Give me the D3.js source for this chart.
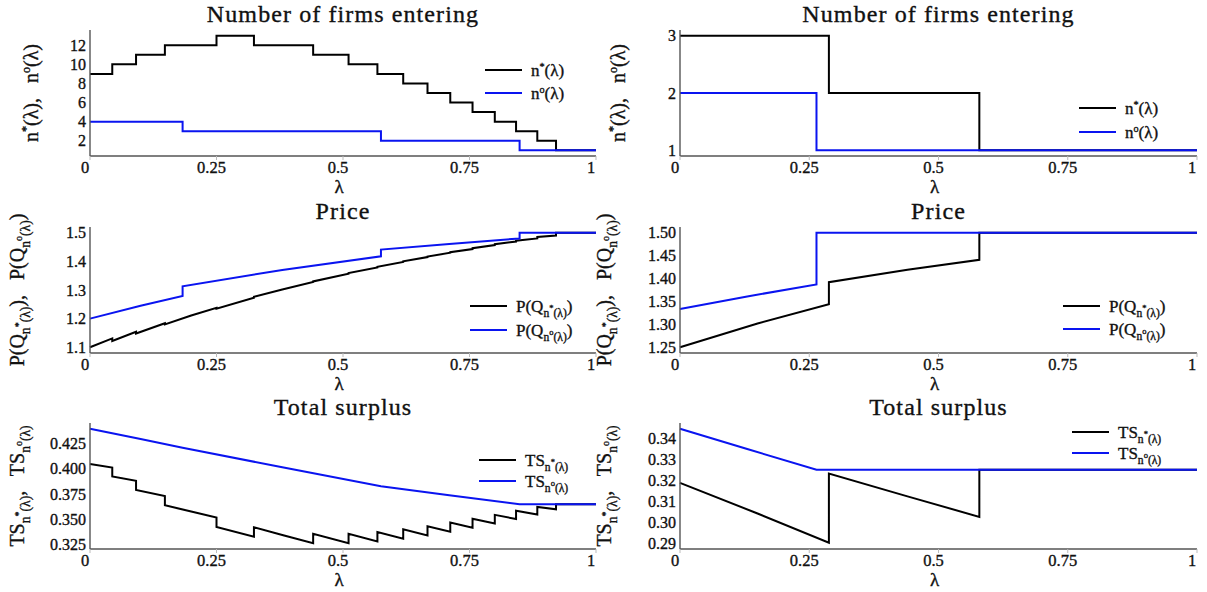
<!DOCTYPE html>
<html>
<head>
<meta charset="utf-8">
<script src="https://cdn.jsdelivr.net/npm/d3@7"></script>
<style>
body { margin: 0; background: #fff; }
text { font-family: "Liberation Serif", "Times New Roman", serif; fill: #111; stroke: #111; stroke-width: 0.35px; }
</style>
</head>
<body>
<svg id="fig" width="1207" height="592"></svg>
<script>
// ---- values ----
const xTicks = [0, 0.25, 0.5, 0.75, 1];
const xTickLabels = ['0', '0.25', '0.5', '0.75', '1'];

// left column: number of firms (step functions, value holds from break onward)
const nStarBreaksL = [0, 0.044, 0.091, 0.148, 0.250, 0.324, 0.441, 0.511, 0.568, 0.619, 0.667, 0.712, 0.756, 0.800, 0.842, 0.884, 0.921];
const nStarL = [9, 10, 11, 12, 13, 12, 11, 10, 9, 8, 7, 6, 5, 4, 3, 2, 1];
const nOptBreaksL = [0, 0.183, 0.575, 0.849];
const nOptL = [4, 3, 2, 1];

// left column: price
const pStarLamL = [0, 0.044, 0.044, 0.091, 0.091, 0.148, 0.148, 0.2, 0.25, 0.25, 0.324, 0.324, 0.38, 0.441, 0.441, 0.511, 0.511, 0.568, 0.568, 0.619, 0.619, 0.667, 0.667, 0.712, 0.712, 0.756, 0.756, 0.800, 0.800, 0.842, 0.842, 0.884, 0.884, 0.921, 0.921, 1];
const pStarL = [1.100, 1.131, 1.122, 1.154, 1.148, 1.184, 1.180, 1.211, 1.238, 1.235, 1.273, 1.276, 1.302, 1.328, 1.330, 1.357, 1.359, 1.379, 1.381, 1.398, 1.400, 1.415, 1.417, 1.430, 1.432, 1.443, 1.446, 1.457, 1.460, 1.469, 1.472, 1.480, 1.485, 1.490, 1.500, 1.500];
const pOptLamL = [0, 0.1, 0.183, 0.183, 0.38, 0.575, 0.575, 0.71, 0.849, 0.849, 1];
const pOptL = [1.200, 1.245, 1.279, 1.313, 1.370, 1.4175, 1.441, 1.461, 1.480, 1.500, 1.500];

// left column: total surplus
const tsStarLamL = pStarLamL;
const tsStarL = [0.4050, 0.4015, 0.3925, 0.3882, 0.3791, 0.3731, 0.3639, 0.3578, 0.3517, 0.3423, 0.3326, 0.3421, 0.3345, 0.3263, 0.3356, 0.3262, 0.3356, 0.3281, 0.3373, 0.3308, 0.3400, 0.3340, 0.3431, 0.3377, 0.3468, 0.3417, 0.3506, 0.3458, 0.3544, 0.3503, 0.3585, 0.3548, 0.3623, 0.3600, 0.3650, 0.3650];
const tsOptLamL = [0, 0.1, 0.183, 0.38, 0.575, 0.71, 0.849, 1];
const tsOptL = [0.4400, 0.4299, 0.4211, 0.4017, 0.3828, 0.3738, 0.3650, 0.3650];

// right column
const nStarBreaksR = [0, 0.288, 0.579];
const nStarR = [3, 2, 1];
const nOptBreaksR = [0, 0.264];
const nOptR = [2, 1];

const pStarLamR = [0, 0.15, 0.288, 0.288, 0.44, 0.579, 0.579, 1];
const pStarR = [1.250, 1.302, 1.344, 1.392, 1.419, 1.441, 1.500, 1.500];
const pOptLamR = [0, 0.13, 0.264, 0.264, 1];
const pOptR = [1.3333, 1.361, 1.387, 1.500, 1.500];

const tsStarLamR = pStarLamR;
const tsStarR = [0.3188, 0.3043, 0.2905, 0.3232, 0.3124, 0.3027, 0.3250, 0.3250];
const tsOptLamR = [0, 0.13, 0.264, 1];
const tsOptR = [0.3444, 0.3348, 0.3250, 0.3250];

// tick values on the y axes
const yTicksNL = [2, 4, 6, 8, 10, 12];
const yTicksNR = [1, 2, 3];
const yTicksPL = [1.1, 1.2, 1.3, 1.4, 1.5];
const yTicksPR = [1.25, 1.30, 1.35, 1.40, 1.45, 1.50];
const yTicksTSL = [0.325, 0.350, 0.375, 0.400, 0.425];
const yTicksTSR = [0.29, 0.30, 0.31, 0.32, 0.33, 0.34];

// ---- layout ----
const cols = [{ x0: 90, x1: 596, ylab: 38 }, { x0: 680, x1: 1197, ylab: 625 }];
const rowTop = [30, 227, 423];
const plotH = 126;
const BLUE = '#0a14f0';

const svg = d3.select('#fig');

// writes text made of pieces on different levels (base, sup, sub, sub-sup)
function rich(sel, parts, fs) {
    let cur = 0;
    const off = { b: 0, sup: -0.38 * fs, sub: 0.28 * fs, ss: -0.08 * fs };
    const size = { b: fs, sup: 0.6 * fs, sub: 0.68 * fs, ss: 0.5 * fs };
    parts.forEach(([t, lvl]) => {
        sel.append('tspan')
            .attr('dy', off[lvl] - cur)
            .attr('font-size', size[lvl])
            .text(t);
        cur = off[lvl];
    });
}

const labN = (s) => [['n', 'b'], [s, 'sup'], ['(λ)', 'b']];
const labP = (s) => [['P(Q', 'b'], ['n', 'sub'], [s, 'ss'], ['(λ)', 'sub'], [')', 'b']];
const labTS = (s) => [['TS', 'b'], ['n', 'sub'], [s, 'ss'], ['(λ)', 'sub']];

function lineData(lam, vals) {
    return lam.map((l, i) => ({ l: l, v: vals[i] }));
}
function stepData(breaks, vals) {
    let d = breaks.map((b, i) => ({ l: b, v: vals[i] }));
    d.push({ l: 1, v: vals[vals.length - 1] });
    return d;
}

function panel(cfg) {
    const c = cols[cfg.col];
    const top = rowTop[cfg.row];
    const bottom = top + plotH;
    const g = svg.append('g');

    const x = d3.scaleLinear().domain([0, 1]).range([c.x0, c.x1]);
    const y = d3.scaleLinear().domain(cfg.domain).range([bottom, top]);

    // title
    g.append('text')
        .attr('x', (c.x0 + c.x1) / 2)
        .attr('y', top - 8)
        .attr('text-anchor', 'middle')
        .attr('font-size', 24)
        .attr('letter-spacing', 1.1)
        .text(cfg.title);

    // series
    const line = d3.line().x(d => x(d.l)).y(d => y(d.v));
    if (cfg.step) line.curve(d3.curveStepAfter);
    g.append('path').datum(cfg.black)
        .attr('d', line).attr('fill', 'none')
        .attr('stroke', '#000').attr('stroke-width', 2);
    g.append('path').datum(cfg.blue)
        .attr('d', line).attr('fill', 'none')
        .attr('stroke', BLUE).attr('stroke-width', 2);

    // spines
    g.append('line').attr('x1', c.x0).attr('x2', c.x0).attr('y1', top).attr('y2', bottom)
        .attr('stroke', '#555').attr('stroke-width', 1.4);
    g.append('line').attr('x1', c.x0).attr('x2', c.x1).attr('y1', bottom).attr('y2', bottom)
        .attr('stroke', '#555').attr('stroke-width', 1.4);

    // x ticks
    xTicks.forEach((t, i) => {
        g.append('line').attr('x1', x(t)).attr('x2', x(t)).attr('y1', bottom).attr('y2', bottom + 4)
            .attr('stroke', '#bbb').attr('stroke-width', 1);
        g.append('text')
            .attr('x', x(t) - 5)
            .attr('y', bottom + 17)
            .attr('text-anchor', 'middle')
            .attr('font-size', 16.5)
            .text(xTickLabels[i]);
    });
    g.append('text')
        .attr('x', (c.x0 + c.x1) / 2 - 4)
        .attr('y', bottom + 37)
        .attr('text-anchor', 'middle')
        .attr('font-size', 19)
        .text('λ');

    // y ticks
    cfg.yTicks.forEach(t => {
        g.append('text')
            .attr('x', c.x0 - 4)
            .attr('y', y(t) + 5.5)
            .attr('text-anchor', 'end')
            .attr('font-size', 16)
            .text(d3.format(cfg.fmt)(t));
    });

    // rotated y label
    const yl = g.append('text')
        .attr('transform', `translate(${c.ylab + cfg.ylabDx},${(top + bottom) / 2}) rotate(-90)`)
        .attr('text-anchor', 'middle')
        .attr('font-size', 20);
    rich(yl, cfg.ylab, 20);

    // legend
    cfg.legend.rows.forEach((row, i) => {
        const ly = cfg.legend.y[i];
        g.append('line')
            .attr('x1', cfg.legend.x).attr('x2', cfg.legend.x + 37)
            .attr('y1', ly).attr('y2', ly)
            .attr('stroke', i === 0 ? '#000' : BLUE).attr('stroke-width', 2);
        const t = g.append('text')
            .attr('x', cfg.legend.x + 46)
            .attr('y', ly + 6)
            .attr('font-size', 17);
        rich(t, row, 17);
    });
}

const sep = [[',\u2002 ', 'b']];

panel({
    col: 0, row: 0, title: 'Number of firms entering', step: true,
    domain: [0.4, 13.6], yTicks: yTicksNL, fmt: 'd',
    black: stepData(nStarBreaksL, nStarL), blue: stepData(nOptBreaksL, nOptL),
    ylab: labN('*').concat(sep, labN('o')), ylabDx: 0,
    legend: { x: 485, y: [70, 93], rows: [labN('*'), labN('o')] }
});
panel({
    col: 1, row: 0, title: 'Number of firms entering', step: true,
    domain: [0.9, 3.1], yTicks: yTicksNR, fmt: 'd',
    black: stepData(nStarBreaksR, nStarR), blue: stepData(nOptBreaksR, nOptR),
    ylab: labN('*').concat(sep, labN('o')), ylabDx: 0,
    legend: { x: 1079, y: [108, 132], rows: [labN('*'), labN('o')] }
});
panel({
    col: 0, row: 1, title: 'Price', step: false,
    domain: [1.08, 1.52], yTicks: yTicksPL, fmt: '.1f',
    black: lineData(pStarLamL, pStarL), blue: lineData(pOptLamL, pOptL),
    ylab: labP('*').concat(sep, labP('o')), ylabDx: -14,
    legend: { x: 470, y: [306, 330], rows: [labP('*'), labP('o')] }
});
panel({
    col: 1, row: 1, title: 'Price', step: false,
    domain: [1.2375, 1.5125], yTicks: yTicksPR, fmt: '.2f',
    black: lineData(pStarLamR, pStarR), blue: lineData(pOptLamR, pOptR),
    ylab: labP('*').concat(sep, labP('o')), ylabDx: -14,
    legend: { x: 1063, y: [306, 329], rows: [labP('*'), labP('o')] }
});
panel({
    col: 0, row: 2, title: 'Total surplus', step: false,
    domain: [0.3205, 0.4457], yTicks: yTicksTSL, fmt: '.3f',
    black: lineData(tsStarLamL, tsStarL), blue: lineData(tsOptLamL, tsOptL),
    ylab: labTS('*').concat(sep, labTS('o')), ylabDx: -14,
    legend: { x: 479, y: [460, 481], rows: [labTS('*'), labTS('o')] }
});
panel({
    col: 1, row: 2, title: 'Total surplus', step: false,
    domain: [0.2875, 0.3471], yTicks: yTicksTSR, fmt: '.2f',
    black: lineData(tsStarLamR, tsStarR), blue: lineData(tsOptLamR, tsOptR),
    ylab: labTS('*').concat(sep, labTS('o')), ylabDx: -14,
    legend: { x: 1072, y: [432, 453], rows: [labTS('*'), labTS('o')] }
});
</script>
</body>
</html>
